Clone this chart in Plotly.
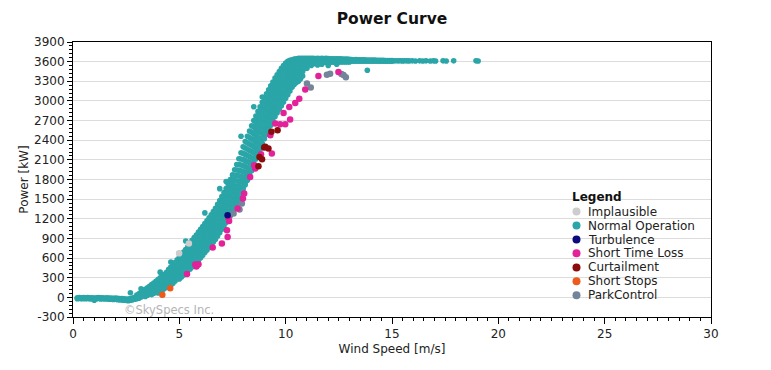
import plotly.graph_objects as go

# ---------------- data ----------------
# Normal Operation: dense cloud, given as wind-speed columns with the power values seen in each
normal_ws = [0.2, 0.3, 0.4, 0.5, 0.6, 0.7, 0.8, 0.9, 1.0,
             1.1, 1.2, 1.3, 1.4, 1.5, 1.6, 1.7, 1.8, 1.9, 2.0,
             2.1, 2.2, 2.3, 2.4, 2.5, 2.6, 2.7, 2.8, 2.9, 3.0,
             3.1, 3.2, 3.3, 3.4, 3.5, 3.6, 3.7, 3.8, 3.9, 4.0,
             4.1, 4.2, 4.3, 4.4, 4.5, 4.6, 4.7, 4.8, 4.9, 5.0,
             5.1, 5.2, 5.3, 5.4, 5.5, 5.6, 5.7, 5.8, 5.9, 6.0,
             6.1, 6.2, 6.3, 6.4, 6.5, 6.6, 6.7, 6.8, 6.9, 7.0,
             7.1, 7.2, 7.3, 7.4, 7.5, 7.6, 7.7, 7.8, 7.9, 8.0,
             8.1, 8.2, 8.3, 8.4, 8.5, 8.6, 8.7, 8.8, 8.9, 9.0,
             9.1, 9.2, 9.3, 9.4, 9.5, 9.6, 9.7, 9.8, 9.9, 10.0,
             10.1, 10.2, 10.3, 10.4, 10.5, 10.6]
normal_kw = [
    [-6, -20], [-3, -17], [-8, -23], [-4, -19], [-7, -22], [-2, -16], [-6, -24], [-5, -20], [-9, -28, -45],
    [-6, -21], [-4, -18], [-8, -25], [-6, -22], [-9, -26], [-8, -24], [-12, -30], [-10, -28], [-14, -32], [-12, -30],
    [-16, -35], [-18, -38], [-20, -42], [-22, -45], [-25, -48], [-24, -50], [-20, -45, 70], [-12, -38], [0, -30], [35, 8, -22],
    [55, 22, -12], [78, 40, 5, 130], [100, 62, 25], [122, 85, 48, 15], [145, 108, 70, 32], [170, 132, 95, 55],
    [195, 157, 118, 78, 42], [218, 180, 140, 100, 62], [245, 205, 165, 125, 85], [272, 230, 188, 146, 104, 68],
    [300, 258, 215, 172, 130, 90, 385], [326, 283, 240, 196, 154, 112], [352, 308, 264, 220, 176, 134],
    [382, 338, 293, 248, 203, 160], [430, 385, 340, 295, 250, 205, 162], [462, 415, 368, 322, 276, 230, 186, 540],
    [494, 446, 398, 352, 306, 260, 215], [532, 482, 434, 386, 340, 294, 250], [572, 522, 472, 424, 376, 330, 284],
    [620, 570, 520, 470, 420, 372, 325, 282],
    [655, 604, 553, 502, 452, 402, 354, 310], [692, 640, 588, 537, 486, 436, 388, 342],
    [732, 680, 628, 576, 524, 473, 424, 376, 860], [772, 720, 668, 616, 564, 512, 462, 412],
    [830, 777, 724, 672, 620, 568, 518, 470, 430], [870, 816, 763, 710, 657, 605, 555, 506, 462],
    [912, 857, 803, 750, 697, 645, 594, 544, 496], [952, 897, 842, 788, 735, 682, 630, 580, 532],
    [996, 940, 885, 830, 776, 722, 669, 617, 566], [1040, 984, 928, 873, 818, 764, 710, 656, 604],
    [1082, 1026, 970, 914, 859, 804, 750, 696, 642], [1126, 1070, 1014, 958, 902, 847, 792, 738, 684, 1290],
    [1170, 1113, 1056, 1000, 944, 888, 832, 777, 722], [1214, 1157, 1100, 1043, 986, 930, 874, 818, 762],
    [1260, 1202, 1144, 1086, 1028, 971, 914, 857, 802], [1310, 1250, 1190, 1131, 1072, 1014, 956, 899, 845],
    [1362, 1300, 1239, 1178, 1118, 1058, 999, 941, 888], [1420, 1355, 1292, 1229, 1167, 1106, 1046, 988, 936],
    [1480, 1412, 1346, 1281, 1217, 1154, 1093, 1036, 985, 1660], [1540, 1470, 1401, 1334, 1268, 1204, 1142, 1088, 1040],
    [1600, 1528, 1458, 1389, 1322, 1257, 1195, 1140, 1090], [1662, 1588, 1516, 1445, 1376, 1310, 1248, 1192, 1142, 1770],
    [1728, 1652, 1578, 1506, 1436, 1368, 1304, 1246, 1194], [1798, 1720, 1644, 1570, 1498, 1428, 1362, 1302, 1248],
    [1870, 1790, 1712, 1636, 1562, 1490, 1422, 1360, 1302], [1950, 1866, 1784, 1704, 1627, 1553, 1483, 1420, 1362],
    [2030, 1944, 1860, 1778, 1698, 1622, 1550, 1484, 1424], [2118, 2028, 1940, 1855, 1772, 1692, 1617, 1548, 1486],
    [2208, 2114, 2022, 1933, 1847, 1764, 1686, 1614, 1560, 2460], [2300, 2200, 2104, 2012, 1922, 1836, 1754, 1684, 1650],
    [2380, 2280, 2183, 2089, 1998, 1910, 1828, 1756, 1718], [2460, 2360, 2262, 2166, 2073, 1984, 1900, 1830, 1790],
    [2540, 2440, 2341, 2244, 2150, 2059, 1973, 1902, 1862], [2620, 2520, 2420, 2322, 2226, 2133, 2046, 1974, 1932],
    [2700, 2600, 2500, 2400, 2302, 2207, 2118, 2044, 2002, 2910], [2770, 2670, 2570, 2470, 2372, 2277, 2188, 2114],
    [2840, 2740, 2640, 2540, 2442, 2348, 2260, 2190], [2910, 2810, 2710, 2612, 2516, 2424, 2340, 2270],
    [2980, 2880, 2782, 2686, 2592, 2502, 2420, 2350, 3060], [3050, 2952, 2855, 2760, 2667, 2577, 2494, 2424],
    [3110, 3013, 2917, 2823, 2731, 2642, 2560, 2490], [3170, 3075, 2981, 2889, 2799, 2712, 2630, 2560],
    [3230, 3135, 3042, 2951, 2862, 2776, 2696, 2628], [3290, 3196, 3104, 3014, 2926, 2841, 2762, 2696],
    [3350, 3257, 3166, 3077, 2990, 2906, 2828, 2764], [3400, 3310, 3222, 3135, 3050, 2967, 2888, 2820],
    [3450, 3361, 3274, 3188, 3104, 3022, 2943, 2874], [3500, 3412, 3326, 3241, 3158, 3077, 2998, 2928],
    [3542, 3458, 3375, 3293, 3212, 3132, 3053, 2984], [3580, 3502, 3424, 3346, 3268, 3190, 3112, 3040],
    [3605, 3534, 3462, 3390, 3316, 3240, 3162, 3096], [3620, 3562, 3500, 3434, 3364, 3290, 3212, 3150],
    [3630, 3584, 3532, 3474, 3410, 3340, 3270, 3210], [3640, 3600, 3556, 3506, 3448, 3382, 3310, 3250],
    [3645, 3610, 3572, 3530, 3478, 3414, 3340, 3280], [3650, 3618, 3584, 3546, 3500, 3442, 3370, 3300],
]

# Normal Operation: rated-power plateau and the sparse points at high wind
plateau_ws = [10.7, 10.8, 10.9, 11.0, 11.1, 11.2, 11.3, 11.4, 11.5, 11.6, 11.7, 11.8, 11.9, 12.0,
              12.1, 12.2, 12.3, 12.4, 12.5, 12.6, 12.7, 12.8, 12.9, 13.0,
              13.1, 13.2, 13.3, 13.4, 13.5, 13.6, 13.7, 13.8, 13.9, 14.0,
              14.1, 14.2, 14.3, 14.4, 14.5, 14.6, 14.7, 14.8, 14.9, 15.0,
              15.1, 15.2, 15.3, 15.4, 15.5, 15.6, 15.7, 15.8]
plateau_kw = [
    [3650, 3620, 3590, 3550, 3490, 3420, 3340], [3652, 3622, 3592, 3556, 3510, 3450, 3380], [3650, 3620, 3590, 3560, 3500],
    [3650, 3620, 3590, 3555, 3500], [3652, 3622, 3592, 3560], [3650, 3620, 3590, 3540],
    [3650, 3620, 3590, 3565], [3648, 3620, 3592], [3650, 3620, 3590, 3550], [3648, 3620, 3592],
    [3650, 3620, 3590, 3560], [3648, 3620, 3592], [3650, 3620, 3590], [3648, 3620, 3592, 3540],
    [3645, 3618, 3592], [3645, 3618, 3594], [3644, 3618, 3592], [3645, 3618, 3594, 3560], [3642, 3616, 3594],
    [3642, 3616, 3594], [3640, 3616, 3595], [3640, 3615, 3594], [3638, 3615, 3596], [3636, 3614, 3596],
    [3632, 3608], [3630, 3606], [3632, 3608], [3630, 3606], [3628, 3606], [3628, 3607], [3628, 3606],
    [3626, 3606], [3626, 3607], [3625, 3606], [3624, 3606], [3624, 3607], [3622, 3606], [3622, 3606],
    [3620, 3606], [3620, 3607], [3618, 3606], [3618, 3606], [3616, 3607], [3616, 3606],
    [3612], [3614], [3612], [3613], [3611], [3613], [3612], [3611],
]
sparse_ws = [13.84, 15.95, 16.1, 16.3, 16.45, 16.6, 16.8, 16.95, 17.05, 17.4, 17.55, 17.9, 18.95, 19.05]
sparse_kw = [3468, 3612, 3610, 3612, 3610, 3612, 3610, 3612, 3610, 3612, 3610, 3612, 3612, 3610]

# Event categories
impl_ws = [4.99, 5.45]
impl_kw = [673, 822]
turb_ws = [7.27]
turb_kw = [1254]
stl_ws = [5.36, 5.75, 5.83, 5.9, 5.8, 6.57, 7.0, 7.27, 7.24, 7.34, 7.31, 7.74, 7.99, 8.05, 8.33, 8.57,
          8.52, 8.84, 9.35, 9.28, 9.51, 9.74, 9.98, 10.21, 9.9, 10.17, 10.45, 10.64, 10.92, 11.54, 12.48]
stl_kw = [357, 500, 490, 505, 470, 760, 822, 923, 1024, 1167, 1213, 1356, 1509, 1585, 1838, 1967,
          2017, 2185, 2196, 2475, 2654, 2643, 2643, 2715, 2816, 2908, 2969, 3035, 3173, 3381, 3442]
curt_ws = [8.72, 8.77, 8.89, 8.99, 9.04, 9.19, 9.33, 9.62]
curt_kw = [2002, 2144, 2110, 2287, 2300, 2272, 2530, 2552]
ss_ws = [4.2, 4.57]
ss_kw = [38, 138]
pc_ws = [7.55, 7.74, 7.83, 7.94, 11.0, 11.18, 11.94, 12.09, 12.62, 12.72, 12.83]
pc_kw = [1280, 1365, 1341, 1432, 3265, 3204, 3400, 3417, 3410, 3395, 3360]

categories = ["Implausible", "Normal Operation", "Turbulence", "Short Time Loss",
              "Curtailment", "Short Stops", "ParkControl"]
colors = ["#cdcdcd", "#2aa5a8", "#0b0b7c", "#e3229a", "#8a0c0c", "#ec5a1c", "#74849a"]

x_ticks = [0, 5, 10, 15, 20, 25, 30]
y_ticks = list(range(-300, 3901, 300))

# ---------------- figure ----------------
FONT = "DejaVu Sans"
OFF = 8                      # default page margin of the HTML body
W, H = 771 - OFF, 370 - OFF
# plot area in window pixels, converted to figure pixels
PL, PR, PT, PB = 73 - OFF, 711 - OFF, 42 - OFF, 317 - OFF


def pxx(x):  # window pixel -> paper x
    return (x - OFF - PL) / (PR - PL)


def pxy(y):  # window pixel -> paper y
    return (PB - (y - OFF)) / (PB - PT)


def expand(ws, kws):
    xs, ys = [], []
    for w, col in zip(ws, kws):
        for v in col:
            xs.append(w)
            ys.append(v)
    return xs, ys


nx, ny = expand(normal_ws, normal_kw)
px_, py_ = expand(plateau_ws, plateau_kw)
nx = nx + px_ + sparse_ws
ny = ny + py_ + sparse_kw

fig = go.Figure()
fig.add_trace(go.Scatter(x=nx, y=ny, mode="markers", name=categories[1],
                         marker=dict(color=colors[1], size=5.6, line=dict(width=0)),
                         showlegend=False))
event_sets = [(impl_ws, impl_kw, 0), (pc_ws, pc_kw, 6), (stl_ws, stl_kw, 3),
              (curt_ws, curt_kw, 4), (ss_ws, ss_kw, 5), (turb_ws, turb_kw, 2)]
for xs, ys, ci in event_sets:
    fig.add_trace(go.Scatter(x=xs, y=ys, mode="markers", name=categories[ci],
                             marker=dict(color=colors[ci], size=6.5, line=dict(width=0)),
                             showlegend=False))

# custom compact legend
annotations = [dict(text="<b>Legend</b>", x=pxx(570), y=pxy(197), xref="paper", yref="paper",
                    xanchor="left", yanchor="middle", showarrow=False,
                    font=dict(family=FONT, size=12, color="#111"))]
shapes = []
item_y = [211.5, 225.5, 239.5, 253.3, 267.4, 281.2, 295.3]
for i, (name, col) in enumerate(zip(categories, colors)):
    annotations.append(dict(text=name, x=pxx(586), y=pxy(item_y[i]), xref="paper", yref="paper",
                            xanchor="left", yanchor="middle", showarrow=False,
                            font=dict(family=FONT, size=12, color="#222")))
    shapes.append(dict(type="circle", xref="paper", yref="paper", xsizemode="pixel", ysizemode="pixel",
                       xanchor=pxx(576.5), yanchor=pxy(item_y[i]), x0=-4, x1=4, y0=-4, y1=4,
                       fillcolor=col, line=dict(width=0)))

annotations.append(dict(text="©SkySpecs Inc.", x=pxx(122), y=pxy(310), xref="paper", yref="paper",
                        xanchor="left", yanchor="middle", showarrow=False,
                        font=dict(family=FONT, size=11.5, color="#b4b4b4")))

fig.update_layout(
    width=W, height=H,
    margin=dict(l=PL, r=W - PR, t=PT, b=H - PB, pad=0),
    paper_bgcolor="white", plot_bgcolor="white",
    font=dict(family=FONT, size=12, color="#222"),
    title=dict(text="<b>Power Curve</b>", x=0.5, xref="paper", y=1 - (19 - OFF) / H, yanchor="middle",
               font=dict(family=FONT, size=15.5, color="#111")),
    annotations=annotations, shapes=shapes, showlegend=False,
)
fig.update_xaxes(range=[0, 30], tickvals=x_ticks, ticktext=[str(v) for v in x_ticks],
                 showgrid=False, zeroline=False, automargin=False,
                 showline=True, linecolor="black", linewidth=1, mirror=True,
                 ticks="outside", ticklen=6, tickcolor="black",
                 minor=dict(dtick=0.5, ticks="outside", ticklen=3, tickcolor="black", showgrid=False),
                 title=dict(text="Wind Speed [m/s]", standoff=4, font=dict(family=FONT, size=12, color="#222")),
                 tickfont=dict(family=FONT, size=12, color="#222"))
fig.update_yaxes(range=[-300, 3900], tickvals=y_ticks, ticktext=[str(v) for v in y_ticks],
                 showgrid=True, gridcolor="#dcdcdc", gridwidth=1, zeroline=False, automargin=False,
                 showline=True, linecolor="black", linewidth=1, mirror=True,
                 ticks="outside", ticklen=5, tickcolor="black",
                 minor=dict(dtick=60, ticks="outside", ticklen=3, tickcolor="black", showgrid=False),
                 title=dict(text="Power [kW]", standoff=2, font=dict(family=FONT, size=12, color="#222")),
                 tickfont=dict(family=FONT, size=12, color="#222"))

fig.write_html("out.html")
